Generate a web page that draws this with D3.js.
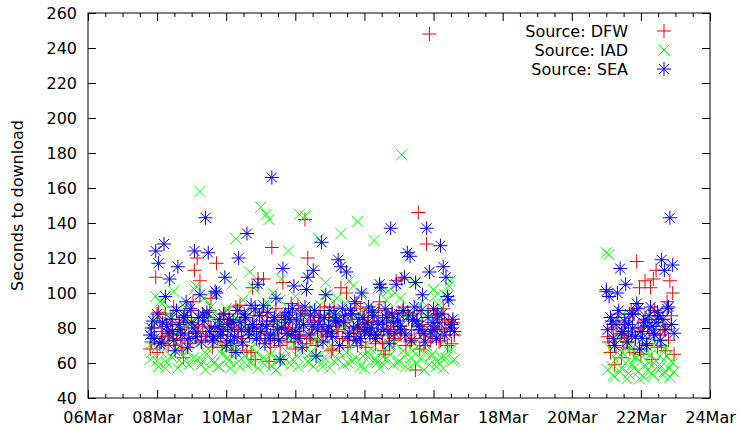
<!DOCTYPE html>
<html>
<head>
<meta charset="utf-8">
<script src="https://cdn.jsdelivr.net/npm/d3@7"></script>
<style>
  body { margin: 0; background: #fff; }
  svg { display: block; font-family: "DejaVu Sans", sans-serif; }
</style>
</head>
<body>
<svg width="739" height="425"></svg>
<script>
// sample times, in days of March (7.8 = 07Mar 19:12)
var times1 = [
  7.8, 7.88, 7.96, 8.04, 8.12, 8.2, 8.28, 8.36, 8.44, 8.52,
  8.6, 8.68, 8.76, 8.84, 8.92, 9, 9.08, 9.16, 9.24, 9.32,
  9.4, 9.48, 9.56, 9.64, 9.72, 9.8, 9.88, 9.96, 10.04, 10.12,
  10.2, 10.28, 10.36, 10.44, 10.52, 10.6, 10.68, 10.76, 10.84, 10.92,
  11, 11.08, 11.16, 11.24, 11.32, 11.4, 11.48, 11.56, 11.64, 11.72,
  11.8, 11.88, 11.96, 12.04, 12.12, 12.2, 12.28, 12.36, 12.44, 12.52,
  12.6, 12.68, 12.76, 12.84, 12.92, 13, 13.08, 13.16, 13.24, 13.32,
  13.4, 13.48, 13.56, 13.64, 13.72, 13.8, 13.88, 13.96, 14.04, 14.12,
  14.2, 14.28, 14.36, 14.44, 14.52, 14.6, 14.68, 14.76, 14.84, 14.92,
  15, 15.08, 15.16, 15.24, 15.32, 15.4, 15.48, 15.56, 15.64, 15.72,
  15.8, 15.88, 15.96, 16.04, 16.12, 16.2, 16.28, 16.36, 16.44, 16.52,
  16.6
];
var times1b = [
  7.84, 7.92, 8, 8.08, 8.16, 8.24, 8.32, 8.4, 8.48, 8.56,
  8.64, 8.72, 8.8, 8.88, 8.96, 9.04, 9.12, 9.2, 9.28, 9.36,
  9.44, 9.52, 9.6, 9.68, 9.76, 9.84, 9.92, 10, 10.08, 10.16,
  10.24, 10.32, 10.4, 10.48, 10.56, 10.64, 10.72, 10.8, 10.88, 10.96,
  11.04, 11.12, 11.2, 11.28, 11.36, 11.44, 11.52, 11.6, 11.68, 11.76,
  11.84, 11.92, 12, 12.08, 12.16, 12.24, 12.32, 12.4, 12.48, 12.56,
  12.64, 12.72, 12.8, 12.88, 12.96, 13.04, 13.12, 13.2, 13.28, 13.36,
  13.44, 13.52, 13.6, 13.68, 13.76, 13.84, 13.92, 14, 14.08, 14.16,
  14.24, 14.32, 14.4, 14.48, 14.56, 14.64, 14.72, 14.8, 14.88, 14.96,
  15.04, 15.12, 15.2, 15.28, 15.36, 15.44, 15.52, 15.6, 15.68, 15.76,
  15.84, 15.92, 16, 16.08, 16.16, 16.24, 16.32, 16.4, 16.48, 16.56
];
var times2 = [
  21, 21.08, 21.16, 21.24, 21.32, 21.4, 21.48, 21.56, 21.64, 21.72,
  21.8, 21.88, 21.96, 22.04, 22.12, 22.2, 22.28, 22.36, 22.44, 22.52,
  22.6, 22.68, 22.76, 22.84, 22.92
];
var times2b = [
  21.04, 21.12, 21.2, 21.28, 21.36, 21.44, 21.52, 21.6, 21.68, 21.76,
  21.84, 21.92, 22, 22.08, 22.16, 22.24, 22.32, 22.4, 22.48, 22.56,
  22.64, 22.72, 22.8, 22.88, 22.96
];

var dfw1 = [
  68, 74, 109, 89, 78, 71, 82, 76, 85, 70,
  79, 73, 63, 84, 77, 90, 113, 120, 107, 81,
  75, 86, 97, 72, 117, 80, 69, 88, 76, 83,
  71, 92, 78, 74, 85, 67, 80, 103, 62, 108,
  77, 108, 84, 61, 126, 73, 81, 70, 106, 88,
  79, 94, 72, 85, 76, 90, 142, 120, 74, 83,
  70, 87, 78, 92, 75, 81, 68, 86, 79, 103,
  84, 100, 73, 88, 77, 70, 91, 82, 69, 86,
  90, 76, 83, 95, 72, 65, 87, 79, 74, 107,
  81, 108, 77, 89, 72, 84, 56, 146, 79, 70,
  128, 248, 75, 86, 80, 73, 91, 78, 84, 71,
  76
];
var dfw1b = [
  72, 80, 66, 84, 75, 88, 70, 79, 92, 74,
  83, 68, 77, 86, 71, 95, 78, 82, 73, 87,
  76, 90, 69, 81, 74, 85, 79, 72, 88, 67,
  80, 75, 93, 70, 84, 78, 66, 87, 81, 73,
  89, 76, 82, 69, 77, 91, 74, 85, 80, 72,
  86, 79, 68, 93, 75, 82, 71, 88, 77, 84,
  73, 90, 80, 76, 85, 67, 92, 78, 83, 74,
  81, 69, 88, 75, 94, 79, 72, 86, 80, 77,
  84, 71, 90, 78, 67, 83, 76, 89, 73, 81,
  77, 92, 70, 85, 79, 74, 88, 68, 82, 76,
  90, 73, 81, 87, 72, 79, 85, 70, 78, 83
];
var dfw2 = [102, 72, 80, 59, 88, 76, 69, 83, 74, 90, 66, 118, 103, 78, 107, 71, 103, 108, 113, 85, 70, 79, 95, 107, 100];
var dfw2b = [75, 66, 82, 70, 86, 63, 78, 72, 68, 88, 74, 80, 65, 84, 71, 77, 62, 90, 69, 76, 81, 67, 73, 87, 65];

var iad1 = [
  62, 72, 98, 58, 66, 95, 60, 75, 63, 88,
  57, 70, 64, 85, 59, 74, 102, 62, 158, 61,
  56, 68, 92, 60, 73, 58, 65, 80, 63, 57,
  70, 131, 61, 66, 87, 59, 112, 64, 71, 57,
  149, 63, 145, 142, 58, 76, 62, 96, 60, 67,
  124, 59, 71, 64, 145, 88, 144, 61, 66, 58,
  74, 131, 60, 63, 99, 57, 69, 82, 62, 134,
  59, 66, 107, 61, 72, 141, 58, 64, 90, 63,
  68, 130, 60, 57, 78, 62, 101, 65, 59, 71,
  61, 179, 64, 86, 58, 67, 60, 93, 62, 56,
  70, 59, 65, 98, 61, 76, 57, 63, 104, 68,
  62
];
var iad1b = [
  66, 84, 61, 95, 70, 57, 88, 64, 101, 68,
  79, 60, 92, 67, 83, 63, 104, 71, 59, 97,
  65, 86, 62, 99, 58, 83, 69, 91, 61, 105,
  67, 85, 58, 96, 64, 81, 60, 103, 66, 89,
  78, 59, 94, 65, 100, 56, 82, 108, 63, 87,
  76, 62, 98, 58, 84, 66, 102, 60, 92, 73,
  64, 93, 58, 106, 69, 86, 61, 97, 66, 81,
  94, 60, 84, 104, 63, 88, 99, 57, 82, 65,
  91, 62, 103, 66, 59, 96, 70, 85, 100, 60,
  97, 67, 58, 89, 63, 106, 69, 84, 95, 66,
  88, 64, 102, 58, 93, 63, 99, 68, 107, 61
];
var iad2 = [123, 122, 58, 52, 66, 55, 88, 60, 54, 68, 57, 63, 51, 70, 59, 56, 65, 53, 61, 82, 58, 55, 64, 52, 60];
var iad2b = [56, 68, 53, 62, 74, 57, 65, 51, 70, 59, 63, 55, 78, 52, 66, 60, 54, 72, 58, 64, 53, 69, 57, 61, 55];

var sea1 = [
  76, 84, 124, 117, 72, 128, 81, 108, 78, 67,
  115, 79, 86, 95, 74, 83, 124, 77, 99, 88,
  143, 123, 80, 75, 100, 85, 78, 109, 82, 73,
  84, 66, 120, 79, 88, 134, 76, 82, 91, 105,
  78, 93, 81, 74, 166, 86, 79, 62, 114, 83,
  89, 76, 104, 84, 80, 69, 92, 109, 87, 113,
  64, 82, 129, 86, 78, 90, 75, 84, 119, 115,
  83, 112, 77, 88, 95, 81, 74, 86, 79, 92,
  80, 87, 76, 105, 84, 91, 78, 137, 83, 105,
  88, 79, 109, 123, 121, 85, 106, 81, 90, 77,
  137, 112, 83, 79, 88, 127, 115, 109, 96, 82,
  78
];
var sea1b = [
  80, 74, 88, 71, 83, 98, 77, 85, 73, 90,
  82, 76, 87, 69, 91, 80, 75, 86, 72, 84,
  89, 78, 73, 101, 81, 76, 88, 70, 85, 79,
  75, 90, 83, 72, 86, 78, 93, 80, 74, 87,
  82, 71, 89, 76, 84, 97, 73, 80, 87, 77,
  85, 91, 78, 74, 88, 82, 102, 76, 81, 90,
  79, 86, 72, 99, 81, 77, 88, 84, 70, 91,
  87, 75, 90, 80, 73, 85, 100, 78, 83, 76,
  89, 74, 82, 103, 79, 86, 71, 88, 77, 84,
  81, 90, 76, 87, 73, 92, 84, 79, 99, 72,
  86, 78, 91, 74, 83, 88, 76, 98, 80, 85
];
var sea2 = [101, 98, 84, 70, 100, 114, 78, 105, 82, 76, 88, 94, 68, 74, 85, 81, 92, 77, 83, 87, 119, 113, 91, 143, 116];
var sea2b = [79, 86, 74, 82, 90, 77, 84, 72, 88, 80, 75, 91, 78, 83, 70, 87, 81, 76, 89, 73, 85, 79, 92, 82, 77];

var seriesNames = ["Source: DFW", "Source: IAD", "Source: SEA"];
var seriesColors = ["#ff0000", "#00ff00", "#0000ff"];
var xTickDays = [6, 8, 10, 12, 14, 16, 18, 20, 22, 24];
var yTicks = [40, 60, 80, 100, 120, 140, 160, 180, 200, 220, 240, 260];

function toDate(d) { return new Date(Date.UTC(2013, 2, 1) + (d - 1) * 864e5); }

function pairs(t, v) { return t.map(function (d, i) { return [d, v[i]]; }); }

var series = [
  [].concat(pairs(times1, dfw1), pairs(times1b, dfw1b), pairs(times2, dfw2), pairs(times2b, dfw2b)),
  [].concat(pairs(times1, iad1), pairs(times1b, iad1b), pairs(times2, iad2), pairs(times2b, iad2b)),
  [].concat(pairs(times1, sea1), pairs(times1b, sea1b), pairs(times2, sea2), pairs(times2b, sea2b))
];

var svg = d3.select("svg"),
    pLeft = 88, pRight = 710, pTop = 13, pBottom = 398;

var x = d3.scaleUtc().domain([toDate(6), toDate(24)]).range([pLeft, pRight]);
var y = d3.scaleLinear().domain([40, 260]).range([pBottom, pTop]);

// marker shapes like gnuplot's pt 1, 2, 3
var plus = "M-7,0H7M0,-7V7",
    cross = "M-5.5,-5.5L5.5,5.5M-5.5,5.5L5.5,-5.5",
    star = plus + "M-5,-5L5,5M-5,5L5,-5";
var shapes = [plus, cross, star];

var minor = d3.range(6, 24.01, 0.5).filter(function (d) { return d % 2 !== 0; }).map(toDate);

// axes, ticks pointing in
svg.append("g")
    .attr("transform", "translate(0," + pBottom + ")")
    .call(d3.axisBottom(x).tickValues(xTickDays.map(toDate)).tickFormat(d3.utcFormat("%d%b")).tickSize(-8).tickPadding(14));
svg.append("g")
    .attr("transform", "translate(0," + pBottom + ")")
    .call(d3.axisBottom(x).tickValues(minor).tickFormat("").tickSize(-4));
svg.append("g")
    .attr("transform", "translate(0," + pTop + ")")
    .call(d3.axisTop(x).tickValues(xTickDays.map(toDate)).tickFormat("").tickSize(-8));
svg.append("g")
    .attr("transform", "translate(0," + pTop + ")")
    .call(d3.axisTop(x).tickValues(minor).tickFormat("").tickSize(-4));
svg.append("g")
    .attr("transform", "translate(" + pLeft + ",0)")
    .call(d3.axisLeft(y).tickValues(yTicks).tickSize(-8).tickPadding(11));
svg.append("g")
    .attr("transform", "translate(" + pRight + ",0)")
    .call(d3.axisRight(y).tickValues(yTicks).tickFormat("").tickSize(-8));

svg.selectAll(".domain").remove();
svg.selectAll(".tick line").attr("stroke", "#000");
svg.selectAll(".tick text").attr("fill", "#000").style("font-size", "16px").style("font-family", "DejaVu Sans");

svg.append("rect")
    .attr("x", pLeft).attr("y", pTop)
    .attr("width", pRight - pLeft).attr("height", pBottom - pTop)
    .attr("fill", "none").attr("stroke", "#000");

svg.append("text")
    .attr("transform", "translate(23," + ((pTop + pBottom) / 2) + ") rotate(-90)")
    .attr("text-anchor", "middle")
    .style("font-size", "16px")
    .text("Seconds to download");

// points
series.forEach(function (data, s) {
  svg.append("g").selectAll("path")
    .data(data)
    .enter().append("path")
      .attr("d", shapes[s])
      .attr("transform", function (d) { return "translate(" + x(toDate(d[0])) + "," + y(d[1]) + ")"; })
      .attr("fill", "none")
      .attr("stroke", seriesColors[s])
      .attr("stroke-width", 1);
});

// key
var key = svg.append("g");
seriesNames.forEach(function (name, i) {
  var cy = 31 + i * 19;
  key.append("text")
      .attr("x", 628).attr("y", cy + 5.5)
      .attr("text-anchor", "end")
      .style("font-size", "16px")
      .text(name);
  key.append("path")
      .attr("d", shapes[i])
      .attr("transform", "translate(664," + cy + ")")
      .attr("fill", "none")
      .attr("stroke", seriesColors[i]);
});
</script>
</body>
</html>
